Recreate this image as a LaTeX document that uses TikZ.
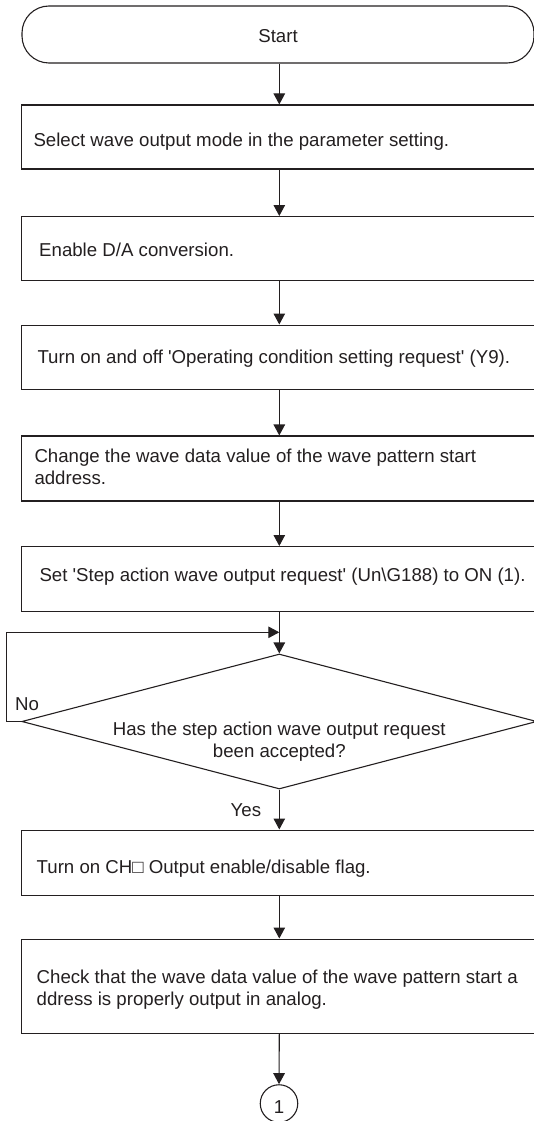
\documentclass[tikz,border=0pt]{standalone}
\usepackage{fontspec}
\newfontfamily\diafont{Liberation Sans}
\usetikzlibrary{shapes.geometric,arrows.meta}
\definecolor{ink}{RGB}{35,31,32}
\begin{document}
\begin{tikzpicture}[x=1pt,y=-1pt,
  every node/.style={font=\diafont\fontsize{18.65}{22.3}\selectfont, text=ink},
  boxnode/.style={draw=ink, line width=1.1pt, rectangle, minimum width=516pt, inner sep=0pt},
  arr/.style={draw=ink, line width=1.1pt, -{Triangle[length=11pt,width=11.5pt]}},
  lbl/.style={anchor=base west, inner sep=0pt}]
\useasboundingbox (0,0) rectangle (534,1121);
\clip (0,0) rectangle (534,1121);
% shapes
\node[draw=ink, line width=1.1pt, rounded corners=27pt, minimum width=512pt, minimum height=57pt, inner sep=0pt, text height=16pt, text depth=0pt] (start) at (278,34.5) {Start};
\node[boxnode, minimum height=64pt] (b1) at (279.3,137) {};
\node[boxnode, minimum height=63.5pt] (b2) at (279.3,248.3) {};
\node[boxnode, minimum height=64.3pt] (b3) at (279.3,357.2) {};
\node[boxnode, minimum height=65pt] (b4) at (279.3,468.5) {};
\node[boxnode, minimum height=64.5pt] (b5) at (279.3,578.8) {};
\node[diamond, draw=ink, line width=1.1pt, minimum width=515pt, minimum height=135pt, inner sep=0pt] (d) at (279.3,721.5) {};
\node[boxnode, minimum height=65.5pt] (b7) at (279.3,862.8) {};
\node[boxnode, minimum height=94.3pt] (b8) at (279.3,986.2) {};
\node[circle, draw=ink, line width=1.1pt, minimum size=37.5pt, inner sep=0pt, text height=20pt, text depth=0pt] (c) at (279,1103.5) {1};
% texts (multi-line nodes: base = last line)
\node[lbl] (t1) at (33.3,146.6) {Select wave output mode in the parameter setting.};
\node[lbl] (t2) at (39,256.6) {Enable D/A conversion.};
\node[lbl] (t3) at (37.3,363.8) {Turn on and off 'Operating condition setting request' (Y9).};
\node[lbl, align=left] (t4) at (34.3,484.3) {Change the wave data value of the wave pattern start\\address.};
\node[lbl] (t5) at (39.3,581) {Set 'Step action wave output request' (Un\textbackslash G188) to ON (1).};
\node[anchor=base, align=center, inner sep=0pt] (t6) at (279.3,757.6) {Has the step action wave output request\\been accepted?};
\node[lbl] (t7) at (36.5,873.8) {Turn on CH□ Output enable/disable flag.};
\node[lbl, align=left] (t8) at (36.5,1005.8) {Check that the wave data value of the wave pattern start a\\ddress is properly output in analog.};
\node[lbl] (no) at (15,710.6) {No};
\node[lbl] (yes) at (230.5,816.6) {Yes};
% connectors
\coordinate (j) at (279.3,632.3);
\draw[arr] (start.south -| b1.north) -- (b1.north);
\draw[arr] (b1.south) -- (b2.north);
\draw[arr] (b2.south) -- (b3.north);
\draw[arr] (b3.south) -- (b4.north);
\draw[arr] (b4.south) -- (b5.north);
\draw[arr] (b5.south) -- (d.north);
\draw[arr] (d.west) -- ++(-14.4,0) |- (j);
\draw[arr] (d.south) -- (b7.north);
\draw[arr] (b7.south) -- (b8.north);
\draw[arr] (b8.south) -- (c.north);
\end{tikzpicture}
\end{document}
